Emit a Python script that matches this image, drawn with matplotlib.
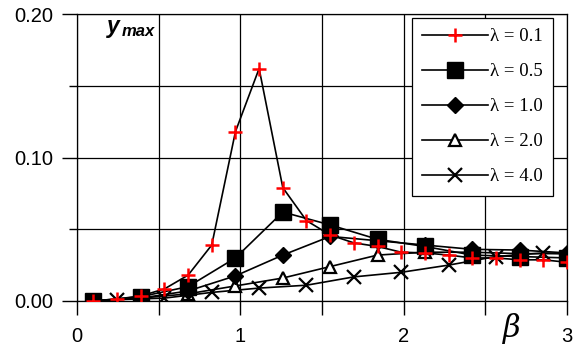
import numpy as np
import matplotlib
matplotlib.use("Agg")
import matplotlib.pyplot as plt

# ---- data ----
beta_all = [0.1, 0.245, 0.39, 0.535, 0.68, 0.825, 0.97, 1.115, 1.26, 1.405, 1.55,
            1.695, 1.84, 1.985, 2.13, 2.275, 2.42, 2.565, 2.71, 2.855, 3.0]
y_l01 = [0.000, 0.0014, 0.0035, 0.0084, 0.018, 0.039, 0.118, 0.162, 0.079, 0.056, 0.046,
         0.0405, 0.038, 0.034, 0.0335, 0.032, 0.030, 0.030, 0.0287, 0.0287, 0.027]

beta_even = [0.1, 0.39, 0.68, 0.97, 1.26, 1.55, 1.84, 2.13, 2.42, 2.71, 3.0]
y_l05 = [0.000, 0.003, 0.010, 0.030, 0.062, 0.053, 0.043, 0.038, 0.032, 0.031, 0.030]
y_l10 = [0.000, 0.002, 0.007, 0.0175, 0.032, 0.045, 0.042, 0.039, 0.036, 0.0355, 0.0335]
y_l20 = [0.000, 0.002, 0.005, 0.0105, 0.016, 0.024, 0.032, 0.034, 0.034, 0.033, 0.033]

beta_odd = [0.1, 0.245, 0.535, 0.825, 1.115, 1.405, 1.695, 1.985, 2.275, 2.565, 2.855, 3.0]
y_l40 = [0.000, 0.001, 0.002, 0.006, 0.009, 0.011, 0.0168, 0.020, 0.025, 0.031, 0.0335, 0.033]

labels = ["λ = 0.1", "λ = 0.5", "λ = 1.0", "λ = 2.0", "λ = 4.0"]
x_ticks = [0, 1, 2, 3]
y_ticks = [0.00, 0.10, 0.20]
y_ticklabels = ["0.00", "0.10", "0.20"]

# ---- figure ----
W, H = 580, 347
fig = plt.figure(figsize=(W / 100, H / 100), dpi=100)
ax = fig.add_axes([77 / W, 1 - 301 / H, (567 - 77) / W, (301 - 14) / H])

lc = "black"
lw = 1.2
h01, = ax.plot(beta_all, y_l01, color=lc, lw=lw, marker="+", ms=10, mew=1.8,
               mec="#ff0000", zorder=10, label=labels[0])
h05, = ax.plot(beta_even, y_l05, color=lc, lw=lw, marker="s", ms=12, mfc="black",
               mec="black", zorder=8, label=labels[1])
h10, = ax.plot(beta_even, y_l10, color=lc, lw=lw, marker="D", ms=8, mfc="black",
               mec="black", zorder=7, label=labels[2])
h20, = ax.plot(beta_even, y_l20, color=lc, lw=lw, marker="^", ms=9, mfc="white",
               mec="black", mew=1.6, zorder=6, label=labels[3])
h40, = ax.plot(beta_odd, y_l40, color=lc, lw=lw, marker="x", ms=10, mew=1.6,
               mec="black", markevery=slice(1, -1), zorder=5, label=labels[4])

ax.set_xlim(0, 3)
ax.set_ylim(0, 0.2)
ax.set_xticks(x_ticks)
ax.set_xticks([0.5, 1.5, 2.5], minor=True)
ax.set_yticks(y_ticks)
ax.set_yticklabels(y_ticklabels)
ax.set_yticks([0.05, 0.15], minor=True)

for t in ax.get_xticklabels() + ax.get_yticklabels():
    t.set_fontfamily("Liberation Sans")
    t.set_fontsize(14.5)

ax.tick_params(axis="x", which="both", direction="out", length=10, width=1, pad=8.5)
ax.tick_params(axis="y", which="major", direction="out", length=11, width=1, pad=6)
ax.tick_params(axis="y", which="minor", direction="out", length=6, width=1)
ax.tick_params(top=False, right=False)

ax.grid(True, which="both", color="black", lw=0.9)
ax.set_axisbelow(True)
for s in ax.spines.values():
    s.set_color("black")
    s.set_linewidth(0.9)

# axis titles
ax.text(2.66, -0.019, "β", family="DejaVu Serif", style="italic", fontsize=22,
        ha="center", va="center", transform=ax.transData, clip_on=False)
ax.text(0.062, 0.935, "y", family="Liberation Sans", weight="bold", style="italic",
        fontsize=16.5, ha="left", va="baseline", transform=ax.transAxes)
ax.text(0.091, 0.922, "max", family="Liberation Sans", weight="bold", style="italic",
        fontsize=12, ha="left", va="baseline", transform=ax.transAxes)

leg = ax.legend(handles=[h01, h05, h10, h20, h40], loc="upper right",
                bbox_to_anchor=(553 / W, 1 - 18 / H), bbox_transform=fig.transFigure,
                borderaxespad=0, frameon=True, fancybox=False, framealpha=1,
                edgecolor="black", prop={"family": "Liberation Serif", "size": 13.5},
                handlelength=3.5, handletextpad=0.1, labelspacing=0.95,
                borderpad=0.55, markerscale=1.0)
leg.get_frame().set_linewidth(0.9)
leg.set_zorder(20)

fig.savefig("out.png", dpi=100)
